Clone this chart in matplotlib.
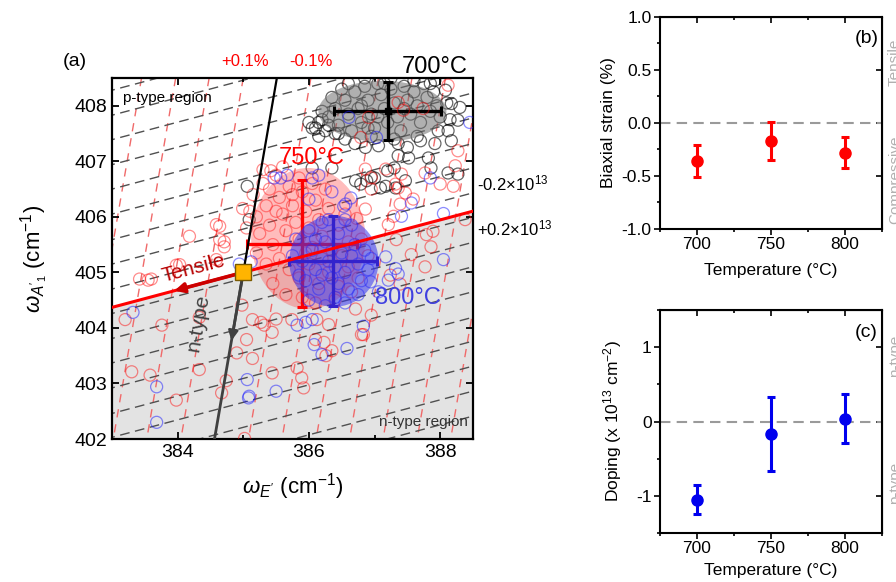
import matplotlib
matplotlib.use('Agg')
import matplotlib.pyplot as plt
from matplotlib.patches import Ellipse
from matplotlib.ticker import MultipleLocator, FormatStrFormatter

plt.rcParams['font.family'] = ['Liberation Sans', 'DejaVu Sans']
plt.rcParams['mathtext.fontset'] = 'custom'
plt.rcParams['mathtext.rm'] = 'Liberation Sans'
plt.rcParams['mathtext.it'] = 'Liberation Sans:italic'
plt.rcParams['mathtext.bf'] = 'Liberation Sans:bold'
plt.rcParams['axes.unicode_minus'] = False

# ---------------- data: panel (a) ----------------
pts_700 = [
    (386.30,407.80),(386.40,407.95),(386.45,407.65),(386.55,408.10),(386.60,407.85),(386.65,407.55),
    (386.70,408.25),(386.75,407.95),(386.80,407.70),(386.85,408.35),(386.90,408.10),(386.95,407.85),
    (387.00,407.60),(387.05,408.40),(387.10,408.20),(387.15,407.95),(387.20,407.70),(387.25,408.30),
    (387.30,408.05),(387.35,407.80),(387.40,407.55),(387.45,408.35),(387.50,408.10),(387.55,407.85),
    (387.60,408.25),(387.65,408.00),(387.70,407.70),(387.75,408.40),(387.80,408.15),(387.85,407.90),
    (387.90,408.25),(387.95,408.00),(388.00,407.80),(386.50,408.30),(386.35,408.15),(386.20,407.90),
    (386.15,407.70),(386.05,407.60),(386.85,408.50),(387.25,408.50),(387.60,408.45),(386.95,407.45),
    (387.30,407.40),(387.65,407.45),(388.10,408.05),(388.15,407.75),(386.25,407.55),(386.60,408.40),
    (387.05,407.80),(387.45,407.95),(387.15,408.40),(386.80,408.00),(387.85,408.40),(386.40,407.50),
    (386.10,407.60),(386.20,407.75),(386.45,407.50),(386.70,407.32),(386.86,407.25),(387.06,407.28),
    (387.36,407.32),(387.50,407.25),(387.70,407.37),(387.92,407.32),(387.97,407.55),(388.12,407.55),
    (388.17,407.37),(388.27,407.74),(388.30,407.97),(388.17,408.04),(387.92,408.46),(388.08,408.28),
    (387.82,407.06),(387.86,406.88),(388.12,406.79),(388.27,406.77),(387.52,407.06),(387.36,407.10),
    (387.30,406.88),(387.20,406.83),(387.00,406.70),(386.88,406.65),(386.71,406.65),(387.17,406.55),
    (387.32,406.52),(387.47,406.65),(385.06,406.55),(386.05,406.88),(386.35,406.88),(386.79,406.59),
    (386.95,406.72),(387.09,406.52),(385.09,405.95),(386.00,407.70),(386.15,407.45),(386.55,407.40),
    (386.30,407.65),(386.90,407.60),
]

pts_750 = [
    (385.15,406.40),(385.20,406.00),(385.25,405.70),(385.30,406.60),(385.35,406.20),(385.40,405.85),
    (385.45,405.50),(385.50,406.75),(385.55,406.35),(385.60,406.05),(385.65,405.75),(385.70,406.55),
    (385.75,406.20),(385.80,405.90),(385.85,405.60),(385.90,406.45),(385.95,406.10),(386.00,405.80),
    (386.05,405.45),(386.10,406.30),(386.15,405.95),(386.20,405.65),(386.25,406.50),(386.30,406.15),
    (386.35,405.40),(386.45,405.85),(386.55,406.05),(386.60,405.55),(385.20,405.35),(385.35,405.15),
    (385.55,405.25),(385.70,405.05),(385.85,404.90),(386.00,405.15),(386.15,404.80),(386.30,405.00),
    (386.45,404.75),(386.60,405.10),(386.75,404.90),(385.45,404.80),(385.65,404.60),(385.90,404.55),
    (386.10,404.45),(386.40,404.50),(386.65,404.65),(385.30,406.85),(385.60,406.90),(385.85,406.70),
    (385.10,406.10),(385.05,405.80),(386.80,405.60),(386.90,405.30),(385.40,406.50),(385.75,406.40),
    (386.05,406.60),(385.50,406.10),(385.95,405.35),(386.20,405.25),(386.50,405.30),
    (383.20,404.15),(383.76,404.05),(384.33,404.19),(383.30,403.21),(383.58,403.15),(383.98,402.70),
    (384.33,403.25),(384.67,402.83),(384.74,403.05),(384.90,403.55),(385.05,403.79),(385.14,403.45),
    (385.32,404.05),(385.50,404.16),(385.44,403.19),(385.02,402.01),(385.14,404.15),(385.82,403.28),
    (385.89,403.10),(385.92,402.92),(386.10,403.79),(386.23,403.74),(386.35,403.59),(386.26,403.50),
    (386.83,403.88),(386.12,404.15),(386.30,404.06),(385.27,404.10),(385.44,403.92),(385.74,404.15),
    (386.71,404.34),(386.80,403.88),(386.95,404.23),(387.24,404.95),(387.39,404.79),(387.56,405.32),
    (387.77,405.10),(383.55,404.86),(383.98,405.13),(384.18,405.65),(384.64,405.59),(384.71,405.46),
    (384.59,405.86),(384.03,405.14),(383.42,404.88),(383.60,404.88),(384.99,406.15),(384.59,405.23),
    (384.98,404.41),(386.73,405.97),(386.86,406.14),(387.21,405.86),(387.29,406.01),(387.39,406.23),
    (387.47,406.43),(387.59,406.32),(387.79,405.68),(387.89,405.74),(387.33,405.59),(387.86,405.46),
    (386.95,406.50),(387.32,406.59),(388.38,405.95),(388.20,406.55),(386.91,407.79),(387.36,408.06),
    (387.44,407.92),(387.74,407.95),(388.12,408.37),(386.86,406.86),(387.17,406.86),(387.41,406.77),
    (387.36,406.52),(387.77,406.79),(388.00,406.59),(388.23,406.92),(388.27,407.19),(386.79,407.43),
    (386.95,406.70),(384.64,405.83),(384.71,405.55),(385.42,406.83),
]

pts_800 = [
    (385.80,405.60),(385.90,405.20),(385.95,404.85),(386.00,405.75),(386.05,405.40),(386.10,405.05),
    (386.15,404.70),(386.20,405.90),(386.25,405.55),(386.30,405.20),(386.35,404.90),(386.40,404.55),
    (386.45,405.70),(386.50,405.35),(386.55,405.00),(386.60,404.70),(386.65,405.85),(386.70,405.50),
    (386.75,405.15),(386.80,404.85),(386.85,405.40),(386.90,405.05),(385.85,404.95),(386.00,404.50),
    (386.25,404.40),(386.55,404.45),(386.30,405.95),(386.55,405.95),(385.75,405.30),(386.95,405.25),
    (386.10,405.60),(386.40,405.10),(386.65,405.30),(386.20,404.95),(386.45,404.80),(386.75,404.60),
    (385.47,406.70),(385.57,406.70),(385.67,406.75),(386.05,406.70),(386.15,406.75),(386.00,406.32),
    (386.56,406.23),(386.35,406.45),
    (383.68,402.94),(383.68,402.30),(383.32,404.28),(385.06,403.07),(385.08,402.74),(385.50,402.86),
    (385.82,404.05),(385.95,404.10),(386.08,403.70),(386.20,403.52),(386.58,403.63),(386.83,404.03),
    (386.05,404.15),(384.94,405.15),(385.12,405.19),(386.53,406.19),(386.64,406.34),(387.41,406.01),
    (387.56,406.25),(388.05,406.06),(387.17,405.28),(387.32,405.07),(387.36,404.97),(387.21,404.86),
    (388.05,405.23),(386.94,404.83),(387.06,404.65),(386.61,407.79),(387.03,407.43),(388.45,407.70),
    (387.85,406.70),(385.09,402.77),
]

# mean and spread of each temperature in panel (a)
means_x = [387.20, 385.89, 386.37]
means_y = [407.90, 405.52, 405.20]
err_x = [0.82, 0.84, 0.67]
err_y = [0.52, 1.15, 0.81]
ell_center = [(387.12, 407.90), (385.99, 405.61), (386.38, 405.20)]
ell_size = [(1.95, 1.10), (1.74, 2.54), (1.36, 1.64)]

# reference point and slopes of the strain/doping construction
ref_point = (385.0, 405.0)
strain_slope = 6.84
doping_slope = 0.315
iso_strain_top_x = [383.45, 383.97, 384.48, 385.00, 386.03, 386.54, 387.06,
                    387.57, 388.08, 388.60, 389.11]
iso_doping_left_y = [410.07, 409.63, 409.18, 408.73, 408.28, 407.83, 407.39, 406.94,
                     406.50, 406.05, 405.59, 405.15, 404.70, 404.26, 403.81, 403.37,
                     402.92, 402.46, 402.03, 401.58, 401.13, 400.68]

# ---------------- data: panels (b) and (c) ----------------
temps = [700, 750, 800]
strain = [-0.36, -0.17, -0.28]
strain_err = [0.15, 0.18, 0.145]
doping = [-1.05, -0.17, 0.04]
doping_err = [0.20, 0.50, 0.33]

W, H = 896, 582
fig = plt.figure(figsize=(W / 100, H / 100), dpi=100)


def fpx(px, py):
    return px / W, 1 - py / H


# ================= panel (a) =================
ax = fig.add_axes([112 / W, 1 - 439 / H, 361 / W, 361 / H])
X0, X1, Y0, Y1 = 383.0, 388.5, 402.0, 408.5
ax.set_xlim(X0, X1)
ax.set_ylim(Y0, Y1)

rx, ry = ref_point


def red_line(x):
    return ry + doping_slope * (x - rx)


ax.fill_between([X0, X1], [red_line(X0), red_line(X1)], Y0, color='#e3e3e3', lw=0, zorder=0)

for xt in iso_strain_top_x:
    ys = [398.0, 410.0]
    xs = [xt + (y - Y1) / strain_slope for y in ys]
    ax.plot(xs, ys, color='#f06a6a', lw=1.0, dashes=(6, 5), zorder=1)
for yl in iso_doping_left_y:
    xs = [382.0, 390.0]
    ys = [yl + doping_slope * (x - X0) for x in xs]
    ax.plot(xs, ys, color='#505050', lw=1.0, dashes=(7, 4), zorder=1)

sc_kw = dict(s=75, facecolors='none', linewidths=0.9)
ax.scatter([p[0] for p in pts_700], [p[1] for p in pts_700], edgecolors=(0, 0, 0, 0.6), zorder=2, **sc_kw)
ax.add_patch(Ellipse(ell_center[0], *ell_size[0], color='#707070', alpha=0.55, lw=0, zorder=3))
ax.errorbar(means_x[0], means_y[0], xerr=err_x[0], yerr=err_y[0], fmt='s', color='black', ms=5,
            elinewidth=2.4, capsize=3.5, capthick=2.2, zorder=4)

ax.scatter([p[0] for p in pts_750], [p[1] for p in pts_750], edgecolors=(1, 0, 0, 0.45), zorder=5, **sc_kw)
ax.add_patch(Ellipse(ell_center[1], *ell_size[1], color='#ff4040', alpha=0.35, lw=0, zorder=6))
ax.errorbar(means_x[1], means_y[1], xerr=err_x[1], yerr=err_y[1], fmt='none', ecolor='#ff0000',
            elinewidth=2.4, capsize=3.5, capthick=2.2, zorder=7)

ax.scatter([p[0] for p in pts_800], [p[1] for p in pts_800], edgecolors=(0.1, 0.1, 1, 0.5), zorder=8, **sc_kw)
ax.add_patch(Ellipse(ell_center[2], *ell_size[2], color='#3535f0', alpha=0.55, lw=0, zorder=9))
ax.errorbar(means_x[2], means_y[2], xerr=err_x[2], yerr=err_y[2], fmt='none', ecolor='#3322cc',
            elinewidth=2.4, capsize=3.5, capthick=2.2, zorder=10)

ax.plot([X0, X1], [red_line(X0), red_line(X1)], color='#ff0000', lw=2.2, zorder=11)
ax.plot([rx, rx + (Y1 - ry) / strain_slope], [ry, Y1], color='black', lw=1.6, zorder=11)
ax.plot([rx, rx + (Y0 - ry) / strain_slope], [ry, Y0], color='#404040', lw=2.0, zorder=11)

tip_t = 383.95
ax.annotate('', xy=(tip_t, red_line(tip_t)), xytext=(rx, ry),
            arrowprops=dict(arrowstyle='-|>', color='#cc0000', lw=2.6, mutation_scale=14,
                            shrinkA=0, shrinkB=0), zorder=12)
tip_n = 403.77
ax.annotate('', xy=(rx + (tip_n - ry) / strain_slope, tip_n), xytext=(rx, ry),
            arrowprops=dict(arrowstyle='-|>', color='#404040', lw=2.0, mutation_scale=14,
                            shrinkA=0, shrinkB=0), zorder=12)
ax.plot([rx], [ry], marker='s', ms=11, mfc='#ffb400', mec='#7a5a00', mew=1.0, zorder=13)

ax.text(384.24, 405.07, 'Tensile', color='#b80000', fontsize=15, rotation=14.7,
        ha='center', va='center', zorder=14)
ax.text(384.31, 404.1, 'n-type', color='#404040', fontsize=15, rotation=80,
        ha='center', va='center', zorder=14)
ax.text(383.17, 408.14, 'p-type region', fontsize=11, ha='left', va='center', zorder=14)
ax.text(388.42, 402.3, 'n-type region', fontsize=11, color='#333333', ha='right', va='center', zorder=14)

ax.set_xticks([384, 386, 388])
ax.set_yticks([402, 403, 404, 405, 406, 407, 408])
ax.xaxis.set_minor_locator(MultipleLocator(1))
ax.tick_params(which='both', direction='in', top=True, right=True, labelsize=14, width=1.3)
ax.tick_params(which='major', length=5)
ax.tick_params(which='minor', length=3)
for s in ax.spines.values():
    s.set_linewidth(1.6)
ax.set_xlabel(r"$\omega_{E'}$ (cm$^{-1}$)", fontsize=16)
ax.set_ylabel(r"$\omega_{A'_1}$ (cm$^{-1}$)", fontsize=16)
ax.xaxis.set_label_coords(0.5, -0.09)
ax.yaxis.set_label_coords(-0.17, 0.5)

fig.text(*fpx(75, 61), '(a)', fontsize=14, ha='center', va='center')
fig.text(*fpx(245, 61), '+0.1%', fontsize=12, color='#ff0000', ha='center', va='center')
fig.text(*fpx(311, 61), '-0.1%', fontsize=12, color='#ff0000', ha='center', va='center')
fig.text(*fpx(435, 67), '700°C', fontsize=17, ha='center', va='center')
fig.text(*fpx(312, 158), '750°C', fontsize=17, color='#ff0000', ha='center', va='center')
fig.text(*fpx(408, 298), '800°C', fontsize=17, color='#4040e0', ha='center', va='center')
fig.text(*fpx(477, 183), r'-0.2×10$^{13}$', fontsize=12, ha='left', va='center')
fig.text(*fpx(477, 228), r'+0.2×10$^{13}$', fontsize=12, ha='left', va='center')

# ================= panel (b) =================
axb = fig.add_axes([660 / W, 1 - 229 / H, 222 / W, 212 / H])
axb.axhline(0, color='#9a9a9a', lw=1.5, dashes=(5, 3))
axb.errorbar(temps, strain, yerr=strain_err, fmt='o', color='#ff0000', ms=8,
             elinewidth=2.2, capsize=3, capthick=2.2)
axb.set_xlim(675, 825)
axb.set_ylim(-1, 1)
axb.set_yticks([-1, -0.5, 0, 0.5, 1])
axb.yaxis.set_major_formatter(FormatStrFormatter('%.1f'))
axb.set_ylabel('Biaxial strain (%)', fontsize=12.5)
axb.set_xlabel('Temperature (°C)', fontsize=12.5)
axb.yaxis.set_label_coords(-0.2, 0.5)
axb.xaxis.set_label_coords(0.5, -0.16)
axb.text(0.93, 0.9, '(b)', transform=axb.transAxes, fontsize=14, ha='center', va='center')

# ================= panel (c) =================
axc = fig.add_axes([660 / W, 1 - 533 / H, 222 / W, 223 / H])
axc.axhline(0, color='#9a9a9a', lw=1.5, dashes=(5, 3))
axc.errorbar(temps, doping, yerr=doping_err, fmt='o', color='#0000ee', ms=8,
             elinewidth=2.2, capsize=3, capthick=2.2)
axc.set_xlim(675, 825)
axc.set_ylim(-1.5, 1.5)
axc.set_yticks([-1, 0, 1])
axc.set_ylabel(r'Doping (x 10$^{13}$ cm$^{-2}$)', fontsize=12.5)
axc.set_xlabel('Temperature (°C)', fontsize=12.5)
axc.yaxis.set_label_coords(-0.16, 0.5)
axc.xaxis.set_label_coords(0.5, -0.135)
axc.text(0.93, 0.9, '(c)', transform=axc.transAxes, fontsize=14, ha='center', va='center')

for a in (axb, axc):
    a.set_xticks(temps)
    a.xaxis.set_minor_locator(MultipleLocator(25))
    a.yaxis.set_minor_locator(MultipleLocator(0.5 if a is axc else 0.25))
    a.tick_params(which='both', direction='out', labelsize=12.5, width=1.2, pad=2)
    a.tick_params(which='major', length=4)
    a.tick_params(which='minor', length=2.5)
    for s in a.spines.values():
        s.set_linewidth(1.5)
    sec = a.secondary_xaxis('top')
    sec.set_xticks(temps)
    sec.xaxis.set_minor_locator(MultipleLocator(25))
    sec.tick_params(which='both', direction='in', labeltop=False, width=1.2)
    sec.tick_params(which='major', length=4)
    sec.tick_params(which='minor', length=2.5)
    secy = a.secondary_yaxis('right')
    secy.set_yticks(a.get_yticks())
    secy.tick_params(direction='in', labelright=False, width=1.2, length=4)

gray = '#b0b0b0'
fig.text(888 / W, 1 - 62 / H, 'Tensile', rotation=90, fontsize=11, color=gray, ha='left', va='center')
fig.text(888 / W, 1 - 180 / H, 'Compressive', rotation=90, fontsize=11, color=gray, ha='left', va='center')
fig.text(888 / W, 1 - 356 / H, 'n-type', rotation=90, fontsize=11, color=gray, ha='left', va='center')
fig.text(888 / W, 1 - 483 / H, 'p-type', rotation=90, fontsize=11, color=gray, ha='left', va='center')

fig.savefig('out.png', dpi=100)
